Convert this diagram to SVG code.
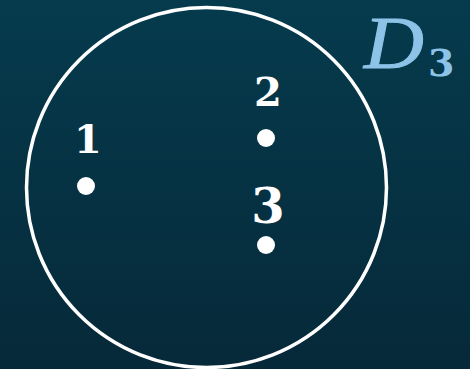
<svg xmlns="http://www.w3.org/2000/svg" width="470" height="369" viewBox="0 0 470 369">
<defs>
<linearGradient id="bg" x1="0" y1="0" x2="0" y2="1">
<stop offset="0" stop-color="#053b4d"/>
<stop offset="1" stop-color="#062939"/>
</linearGradient>
<style>
.lbl{font-family:"DejaVu Serif","Liberation Serif",serif;font-weight:bold;fill:#ffffff;text-anchor:middle}
.pt{fill:#ffffff}
</style>
</defs>
<rect width="470" height="369" fill="url(#bg)"/>
<g id="set">
<circle cx="206.5" cy="187.5" r="180" fill="none" stroke="#ffffff" stroke-width="3.5"/>
</g>
<g id="node1"><circle class="pt" cx="86" cy="186" r="9"/><text class="lbl" x="88" y="153" font-size="40">1</text></g>
<g id="node2"><circle class="pt" cx="266" cy="138" r="9"/><text class="lbl" x="268" y="106" font-size="40">2</text></g>
<g id="node3"><circle class="pt" cx="266" cy="245" r="9"/><text class="lbl" x="268" y="223" font-size="48">3</text></g>
<g id="title"><text transform="translate(364 68) scale(1.12 1)" font-family="'Liberation Serif',serif" font-style="italic" font-size="74" fill="#8ec3e8" stroke="#8ec3e8" stroke-width="1">D</text><text x="428" y="76" font-family="'DejaVu Serif',serif" font-weight="bold" font-size="38" fill="#8ec3e8">3</text></g>
</svg>
